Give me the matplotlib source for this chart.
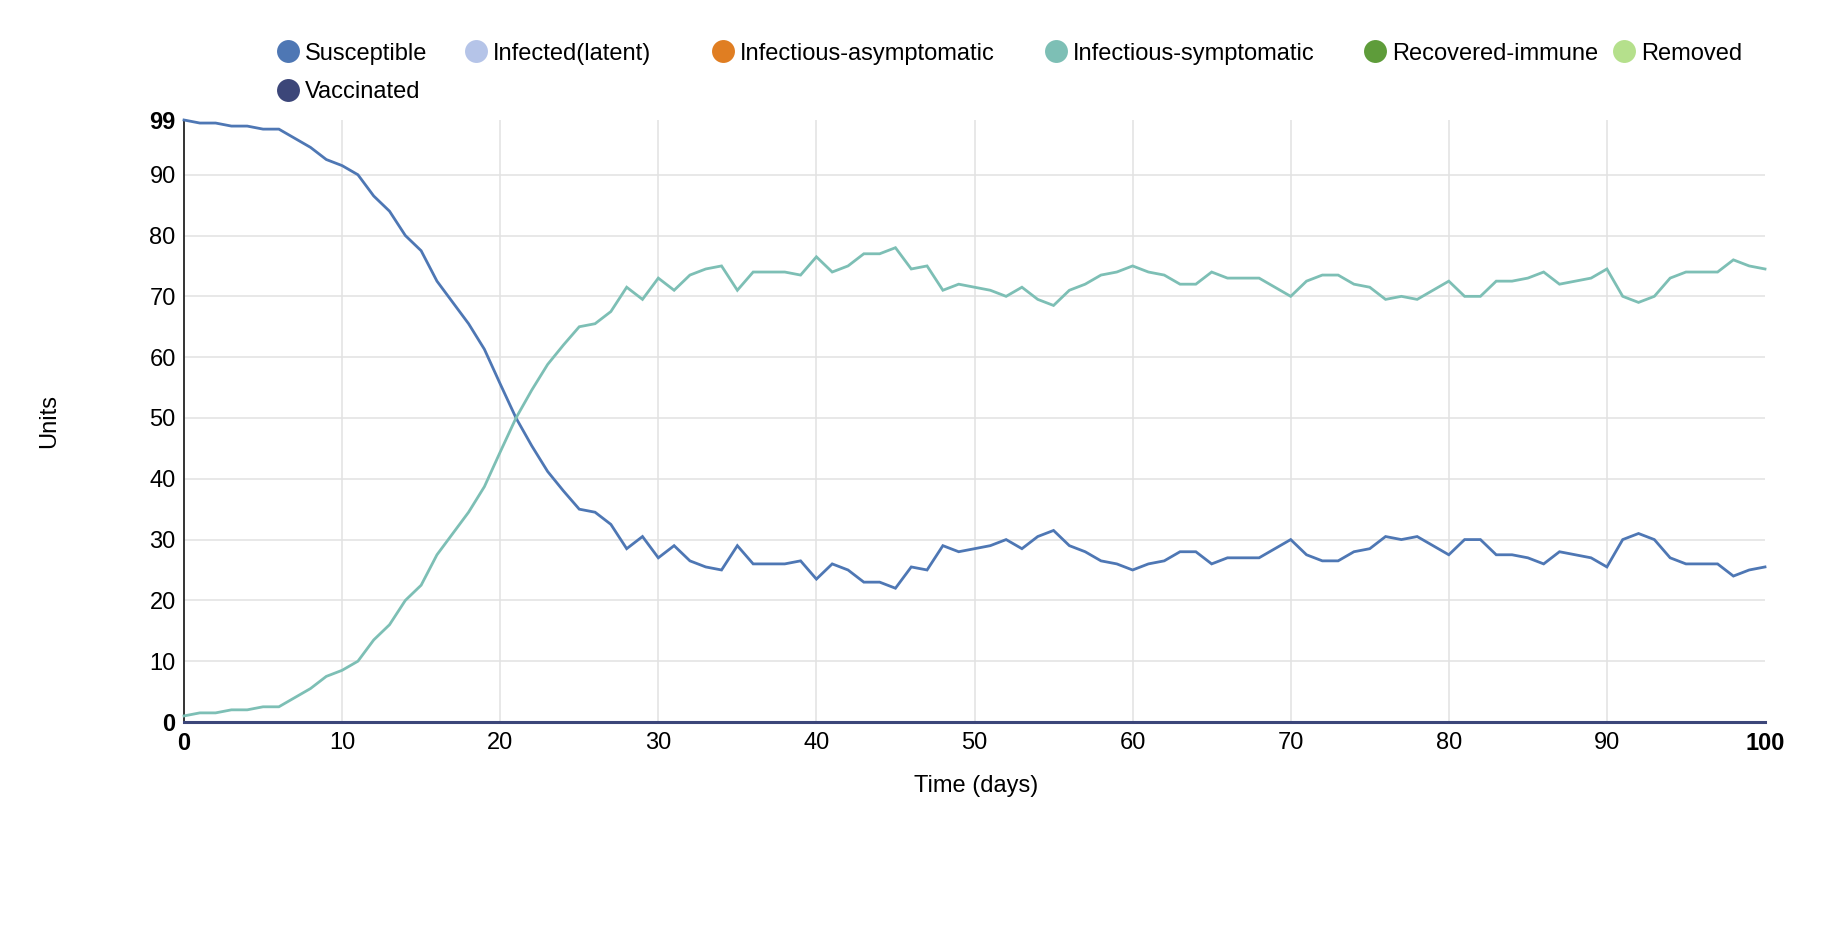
import numpy as np
import matplotlib
matplotlib.use('Agg')
import matplotlib.pyplot as plt
from matplotlib.lines import Line2D

plt.rcParams['font.family'] = ['Liberation Sans', 'DejaVu Sans']
plt.rcParams['font.size'] = 17

# time axis (days)
days = list(range(101))

# compartments
susceptible = [99, 98.5, 98.5, 98, 98, 97.5, 97.5, 96, 94.5, 92.5,
               91.5, 90, 86.5, 84, 80, 77.5, 72.5, 69, 65.5, 61.3,
               55.6, 50, 45.4, 41.2, 38, 35, 34.5, 32.5, 28.5, 30.5,
               27, 29, 26.5, 25.5, 25, 29, 26, 26, 26, 26.5,
               23.5, 26, 25, 23, 23, 22, 25.5, 25, 29, 28,
               28.5, 29, 30, 28.5, 30.5, 31.5, 29, 28, 26.5, 26,
               25, 26, 26.5, 28, 28, 26, 27, 27, 27, 28.5,
               30, 27.5, 26.5, 26.5, 28, 28.5, 30.5, 30, 30.5, 29,
               27.5, 30, 30, 27.5, 27.5, 27, 26, 28, 27.5, 27,
               25.5, 30, 31, 30, 27, 26, 26, 26, 24, 25,
               25.5]
symptomatic = [1, 1.5, 1.5, 2, 2, 2.5, 2.5, 4, 5.5, 7.5,
               8.5, 10, 13.5, 16, 20, 22.5, 27.5, 31, 34.5, 38.7,
               44.4, 50, 54.6, 58.8, 62, 65, 65.5, 67.5, 71.5, 69.5,
               73, 71, 73.5, 74.5, 75, 71, 74, 74, 74, 73.5,
               76.5, 74, 75, 77, 77, 78, 74.5, 75, 71, 72,
               71.5, 71, 70, 71.5, 69.5, 68.5, 71, 72, 73.5, 74,
               75, 74, 73.5, 72, 72, 74, 73, 73, 73, 71.5,
               70, 72.5, 73.5, 73.5, 72, 71.5, 69.5, 70, 69.5, 71,
               72.5, 70, 70, 72.5, 72.5, 73, 74, 72, 72.5, 73,
               74.5, 70, 69, 70, 73, 74, 74, 74, 76, 75,
               74.5]
latent = [0] * 101
asymptomatic = [0] * 101
recovered = [0] * 101
removed = [0] * 101
vaccinated = [0] * 101

names = ['Susceptible', 'Infected(latent)', 'Infectious-asymptomatic',
         'Infectious-symptomatic', 'Recovered-immune', 'Removed', 'Vaccinated']
colors = ['#4e77b4', '#b5c4e8', '#e07e22', '#7dbfb5', '#5e9c3a', '#b5e08c', '#3c4679']
series = [susceptible, latent, asymptomatic, symptomatic, recovered, removed, vaccinated]

W, H = 1836, 946
fig = plt.figure(figsize=(W / 100, H / 100), dpi=100)
ax = fig.add_axes([184 / W, 1 - 722 / H, (1765 - 184) / W, (722 - 120) / H])

for name, color, vals in zip(names, colors, series):
    lw = 2.2 if name == 'Vaccinated' else 2.0
    ax.plot(days, vals, color=color, lw=lw, label=name, clip_on=False,
            solid_joinstyle='miter', zorder=3)

ax.set_xlim(0, 100)
ax.set_ylim(0, 99)
ax.set_xticks(list(range(0, 101, 10)))
ax.set_yticks(list(range(0, 91, 10)) + [99])
ax.grid(True, color='#e2e2e2', lw=1.1, zorder=0)
ax.set_axisbelow(True)
ax.yaxis.get_gridlines()[-1].set_visible(False)
ax.yaxis.get_gridlines()[0].set_visible(False)
ax.xaxis.get_gridlines()[-1].set_visible(False)
ax.xaxis.get_gridlines()[0].set_visible(False)

for s in ['top', 'right', 'bottom']:
    ax.spines[s].set_visible(False)
ax.spines['left'].set_color('#333333')
ax.spines['left'].set_linewidth(1.4)
ax.tick_params(axis='both', length=0, labelsize=17, colors='black')
ax.tick_params(axis='y', pad=6)
ax.tick_params(axis='x', pad=7)

xl = ax.get_xticklabels()
xl[0].set_fontweight('bold')
xl[-1].set_fontweight('bold')
yl = ax.get_yticklabels()
yl[0].set_fontweight('bold')
yl[-1].set_fontweight('bold')

ax.set_xlabel('Time (days)', fontsize=17, va='center')
ax.xaxis.set_label_coords(976 / W, 1 - 786 / H, transform=fig.transFigure)
ax.set_ylabel('Units', fontsize=17, va='center', ha='center')
ax.yaxis.set_label_coords(49 / W, 1 - 421 / H, transform=fig.transFigure)

# legend laid out like the web chart (flex-wrapped items)
legend_pos = [(288, 51), (476, 51), (723, 51), (1056, 51), (1375, 51), (1624, 51), (288, 90)]
for name, color, (cx, cy) in zip(names, colors, legend_pos):
    fig.add_artist(Line2D([cx / W], [1 - cy / H], marker='o', markersize=16.5,
                          color=color, markeredgewidth=0, linestyle='none',
                          transform=fig.transFigure))
    fig.text((cx + 17) / W, 1 - cy / H, name, fontsize=17, ha='left', va='center_baseline')

fig.savefig('out.png', dpi=100)
